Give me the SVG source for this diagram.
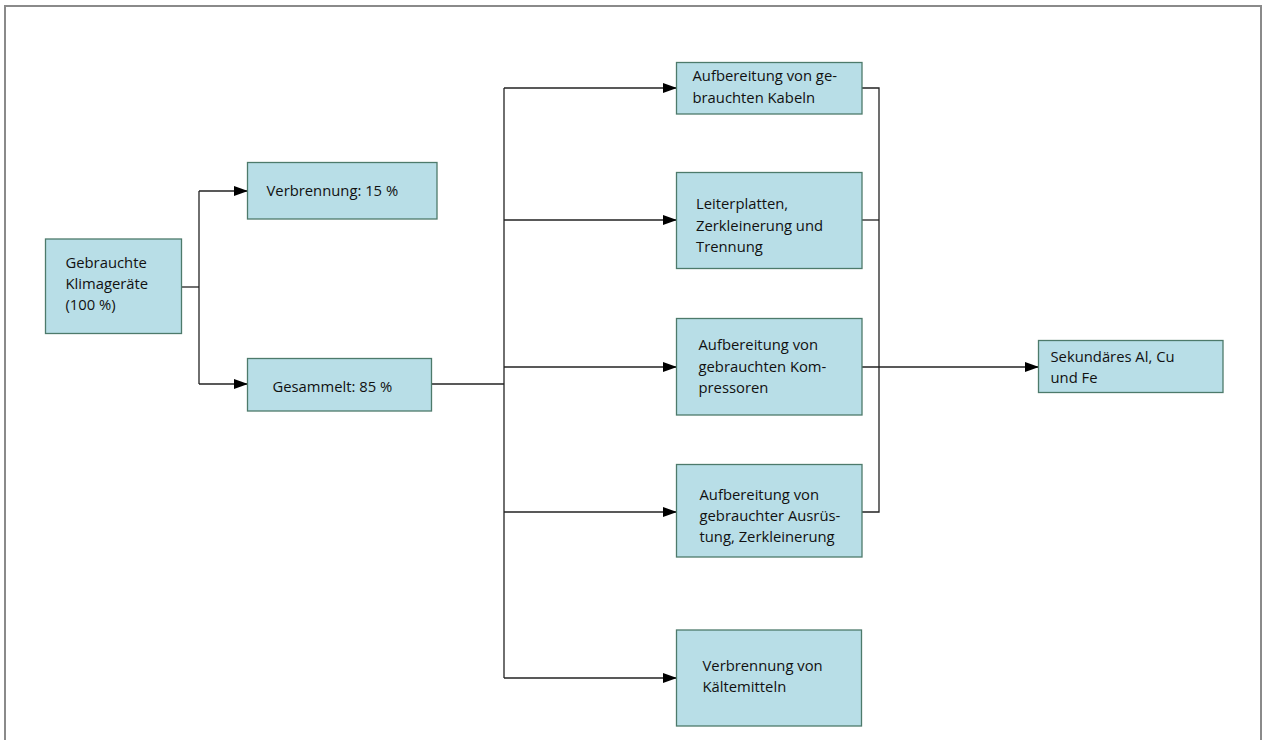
<svg xmlns="http://www.w3.org/2000/svg" width="1262" height="740" viewBox="0 0 1262 740">
<defs>
<style>
.box{fill:#b8dee7;stroke:#4d7a6b;stroke-width:1.3}
.t{font-family:"Open Sans","Liberation Sans",sans-serif;font-size:14.8px;fill:#111}
.ln{fill:none;stroke:#222;stroke-width:1.3}
.frame{fill:none;stroke:#8a8a8a;stroke-width:2}
</style>
<marker id="ah" markerWidth="14" markerHeight="10" refX="13" refY="5" orient="auto" markerUnits="userSpaceOnUse">
<path d="M0,0 L14,5 L0,10 z" fill="#000"/>
</marker>
</defs>
<rect width="1262" height="740" fill="#fff"/>
<path class="frame" d="M5,740 V6 H1261 V740"/>
<g id="connectors">
<path class="ln" d="M182,287 H199"/>
<path class="ln" d="M199,191 V384"/>
<path class="ln" d="M199,191 H247" marker-end="url(#ah)"/>
<path class="ln" d="M199,384 H247" marker-end="url(#ah)"/>
<path class="ln" d="M432,384 H504"/>
<path class="ln" d="M504,88 V678"/>
<path class="ln" d="M504,88 H676" marker-end="url(#ah)"/>
<path class="ln" d="M504,220 H676" marker-end="url(#ah)"/>
<path class="ln" d="M504,367 H676" marker-end="url(#ah)"/>
<path class="ln" d="M504,512 H676" marker-end="url(#ah)"/>
<path class="ln" d="M504,678 H676" marker-end="url(#ah)"/>
<path class="ln" d="M862,88 H879 V512 H862"/>
<path class="ln" d="M862,220 H879"/>
<path class="ln" d="M862,367 H1038" marker-end="url(#ah)"/>
</g>
<g id="n-klima">
<rect class="box" x="45.5" y="239" width="136" height="94.5"/>
<text class="t" x="65.5" y="268">Gebrauchte</text>
<text class="t" x="65.5" y="289">Klimageräte</text>
<text class="t" x="65.5" y="310">(100 %)</text>
</g>
<g id="n-verbrennung">
<rect class="box" x="247.5" y="162.5" width="189.5" height="56.5"/>
<text class="t" x="266.5" y="196">Verbrennung: 15 %</text>
</g>
<g id="n-gesammelt">
<rect class="box" x="247.5" y="358.5" width="184" height="52.5"/>
<text class="t" x="272.5" y="392">Gesammelt: 85 %</text>
</g>
<g id="n-kabel">
<rect class="box" x="676.5" y="62.5" width="185.5" height="51.5"/>
<text class="t" x="692.5" y="80.5">Aufbereitung von ge-</text>
<text class="t" x="692.5" y="102.5">brauchten Kabeln</text>
</g>
<g id="n-leiterplatten">
<rect class="box" x="676.5" y="172.5" width="185.5" height="96"/>
<text class="t" x="696" y="209">Leiterplatten,</text>
<text class="t" x="696" y="230.5">Zerkleinerung und</text>
<text class="t" x="696" y="252">Trennung</text>
</g>
<g id="n-kompressoren">
<rect class="box" x="676.5" y="318.5" width="185.5" height="96.5"/>
<text class="t" x="698.5" y="350">Aufbereitung von</text>
<text class="t" x="698.5" y="371.5">gebrauchten Kom-</text>
<text class="t" x="698.5" y="392.5">pressoren</text>
</g>
<g id="n-ausruestung">
<rect class="box" x="676.5" y="464.5" width="185.5" height="92.5"/>
<text class="t" x="699.5" y="499.5">Aufbereitung von</text>
<text class="t" x="699.5" y="520.5">gebrauchter Ausrüs-</text>
<text class="t" x="699.5" y="541.5">tung, Zerkleinerung</text>
</g>
<g id="n-kaeltemittel">
<rect class="box" x="676.5" y="630" width="185" height="96"/>
<text class="t" x="702.5" y="670.5">Verbrennung von</text>
<text class="t" x="702.5" y="692">Kältemitteln</text>
</g>
<g id="n-sekundaer">
<rect class="box" x="1038.5" y="340.5" width="184.5" height="52"/>
<text class="t" x="1050.5" y="361.5">Sekundäres Al, Cu</text>
<text class="t" x="1050.5" y="383">und Fe</text>
</g>
</svg>
